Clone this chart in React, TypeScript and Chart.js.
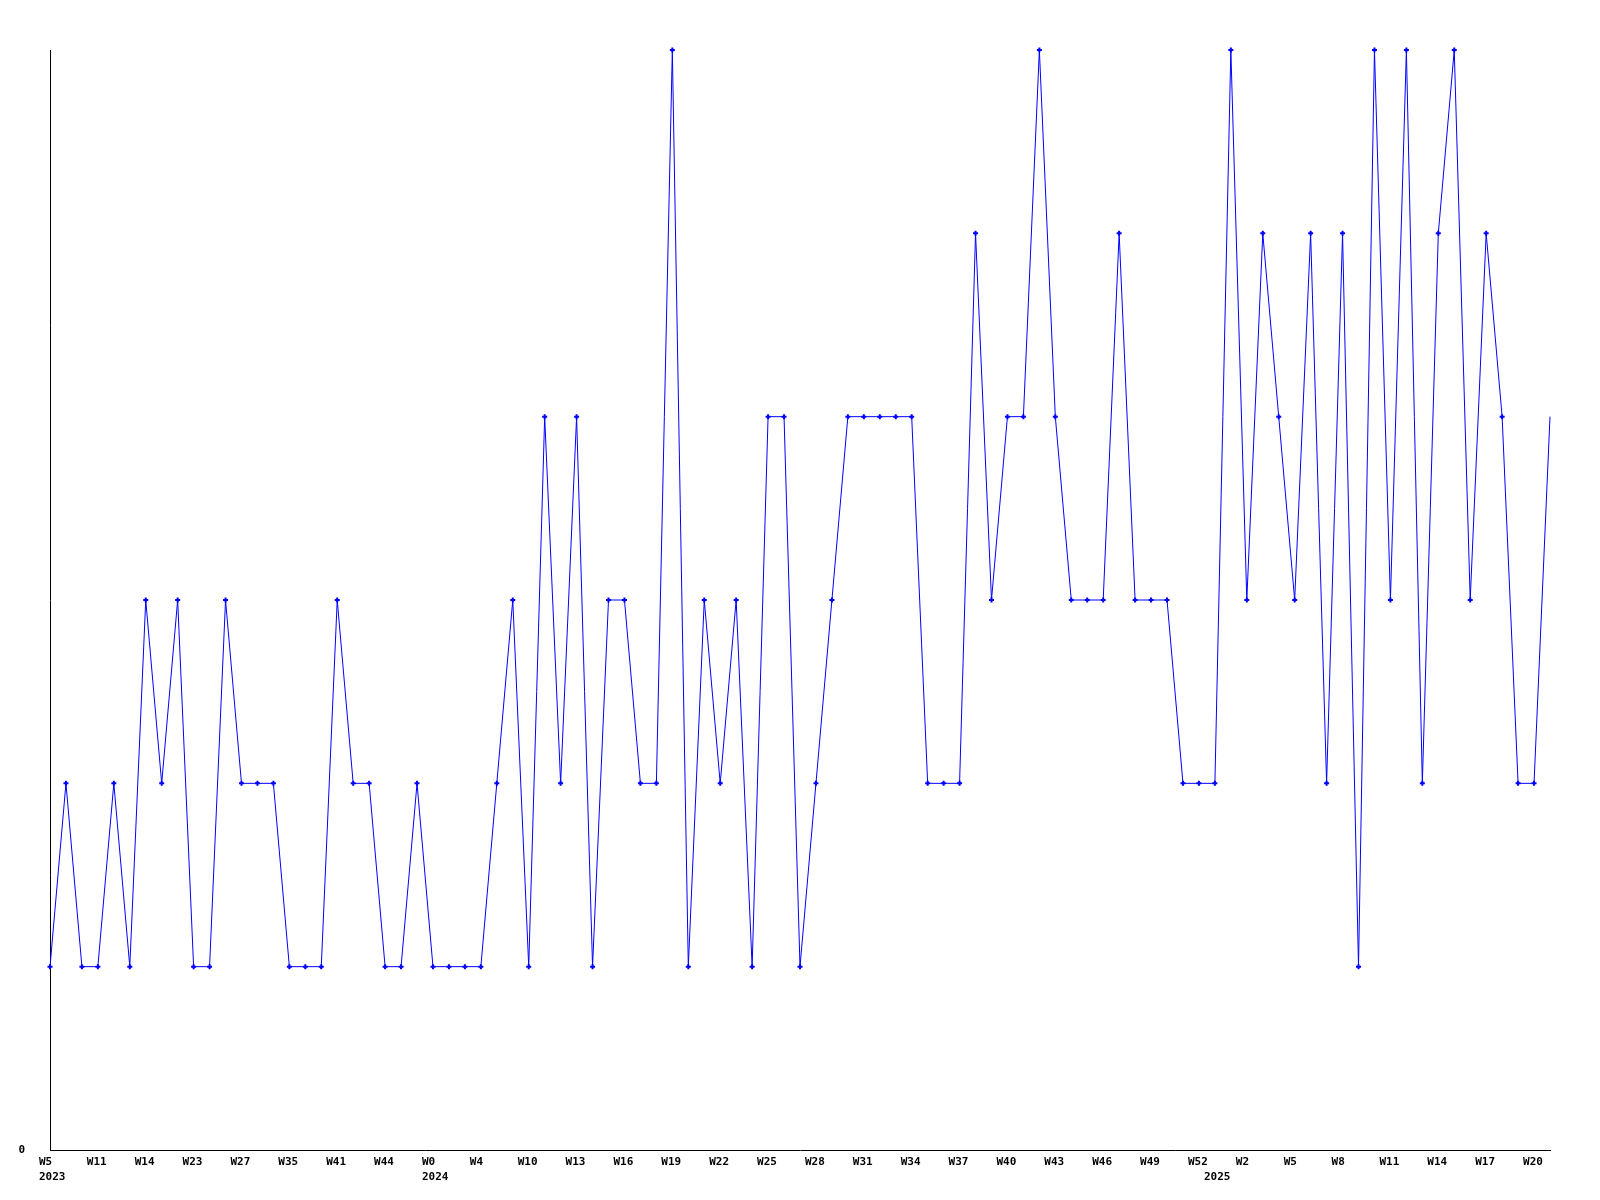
import React, { useEffect, useRef } from "react";
import { Chart, registerables } from "chart.js";

Chart.register(...registerables);

const weeks2023 = ["W5","W7","W9","W11","W12","W13","W14","W17","W20","W23","W25","W26","W27","W30","W33","W35","W37","W39","W41","W42","W43","W44","W47","W50"];
const weeks2024 = ["W0","W2","W3","W4","W6","W8","W10","W11","W12","W13","W14","W15","W16","W17","W18","W19","W20","W21","W22","W23","W24","W25","W26","W27","W28","W29","W30","W31","W32","W33","W34","W35","W36","W37","W38","W39","W40","W41","W42","W43","W44","W45","W46","W47","W48","W49","W50","W51","W52"];
const weeks2025 = ["W0","W1","W2","W3","W4","W5","W6","W7","W8","W9","W10","W11","W12","W13","W14","W15","W16","W17","W18","W19","W20","W21"];
const weekLabels = [...weeks2023, ...weeks2024, ...weeks2025];

const yearIndex = [0, 24, 73];
const yearNames = ["2023", "2024", "2025"];

const counts = [
  1,2,1,1,2,1,3,2,3,1,
  1,3,2,2,2,1,1,1,3,2,
  2,1,1,2,1,1,1,1,2,3,
  1,4,2,4,1,3,3,2,2,6,
  1,3,2,3,1,4,4,1,2,3,
  4,4,4,4,4,2,2,2,5,3,
  4,4,6,4,3,3,3,5,3,3,
  3,2,2,2,6,3,5,4,3,5,
  2,5,1,6,3,6,2,5,6,3,
  5,4,2,2,4
];

const yMin = 0;
const yMax = 6;

const FONT = { family: "'DejaVu Sans Mono', monospace", size: 11, weight: "bold" as const, lineHeight: "15px" };

export default function App() {
  const ref = useRef<HTMLCanvasElement | null>(null);
  useEffect(() => {
    if (!ref.current) return;
    const last = counts.length - 1;
    const chart = new Chart(ref.current, {
      type: "line",
      data: {
        labels: weekLabels,
        datasets: [
          {
            data: counts,
            borderColor: "#0000ff",
            backgroundColor: "#0000ff",
            borderWidth: 1,
            tension: 0,
            pointStyle: "cross",
            pointRadius: (ctx: any) => (ctx.dataIndex === last ? 0 : 2.5),
            pointBorderWidth: 2,
            pointBorderColor: "#0000ff",
            pointBackgroundColor: "#0000ff",
            clip: false as any,
          },
        ],
      },
      options: {
        responsive: false,
        animation: false,
        maintainAspectRatio: false,
        layout: { padding: { top: 50, right: 50, left: 0, bottom: 0 } },
        plugins: { legend: { display: false }, tooltip: { enabled: false }, title: { display: false } },
        scales: {
          x: {
            type: "category",
            offset: false,
            grid: { display: false, drawTicks: false },
            border: { display: true, color: "#000000", width: 1 },
            afterFit: (s: any) => { s.height = 50; s.paddingLeft = 0; s.paddingRight = 0; },
            ticks: {
              autoSkip: false,
              maxRotation: 0,
              minRotation: 0,
              align: "start",
              labelOffset: -11,
              padding: 4.5,
              color: "#000000",
              font: FONT,
              callback: (_v: any, i: number) => {
                const yi = yearIndex.indexOf(i);
                const w = i % 3 === 0 ? weekLabels[i] : "";
                if (yi >= 0) return [w, yearNames[yi]];
                return w;
              },
            },
          },
          y: {
            min: yMin,
            max: yMax,
            grid: { display: false, drawTicks: false },
            border: { display: true, color: "#000000", width: 1 },
            afterFit: (s: any) => { s.width = 50; },
            ticks: {
              stepSize: 1,
              padding: 25,
              color: "#000000",
              font: FONT,
              callback: (v: any) => (v === 0 ? "0" : ""),
            },
          },
        },
      },
    });
    return () => chart.destroy();
  }, []);
  return (
    <div style={{ position: "absolute", left: 0, top: 0, width: 1600, height: 1200, background: "#ffffff" }}>
      <canvas ref={ref} width={1600} height={1200} style={{ width: 1600, height: 1200 }} />
    </div>
  );
}
